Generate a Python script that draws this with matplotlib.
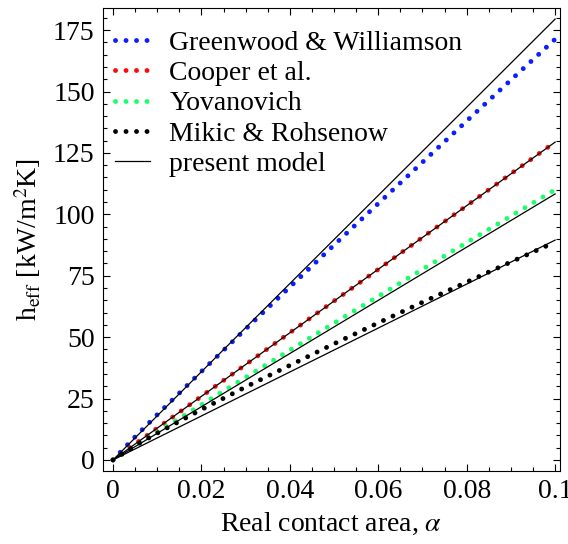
import matplotlib
matplotlib.use("Agg")
import matplotlib.pyplot as plt
from matplotlib.ticker import MultipleLocator, FormatStrFormatter

plt.rcParams['font.family'] = ['Liberation Serif', 'DejaVu Serif']
plt.rcParams['mathtext.fontset'] = 'stix'

# Real contact area grid
alpha = [0.0, 0.005, 0.01, 0.02, 0.03, 0.04, 0.05, 0.06, 0.07, 0.08, 0.09, 0.1]

# h_eff [kW/m^2K]
greenwood = [0.0, 9.4, 18.4, 36.0, 53.3, 70.4, 87.5, 104.4, 121.2, 138.0, 154.7, 171.3]
cooper = [0.0, 6.5, 12.9, 25.9, 38.8, 51.8, 64.7, 77.6, 90.6, 103.5, 116.5, 129.4]
yovanovich = [0.0, 5.7, 11.3, 22.5, 33.6, 44.7, 55.7, 66.6, 77.6, 88.5, 99.3, 110.0]
mikic = [0.0, 5.8, 10.9, 20.5, 29.7, 38.5, 47.3, 55.8, 64.2, 72.4, 80.6, 88.7]

# present model (straight lines)
model_x = [0.0, 0.1]
model_gw = [0.0, 179.5]
model_cooper = [0.0, 129.4]
model_yov = [0.0, 108.3]
model_mikic = [0.0, 89.5]

labels = ["Greenwood & Williamson", "Cooper et al.", "Yovanovich", "Mikic & Rohsenow", "present model"]
colors = ["#0a1eff", "#ff0a0a", "#1aff6a", "#000000"]

fig = plt.figure(figsize=(5.68, 5.44), dpi=100)
ax = fig.add_axes([0.1813, 0.1342, 0.8046, 0.8511])

dot = dict(linestyle=(0, (0.01, 2.15)), dash_capstyle='round', linewidth=3.5)
handles = []
for ys, c, lab in zip([greenwood, cooper, yovanovich, mikic], colors, labels[:4]):
    h, = ax.plot(alpha, ys, color=c, label=lab, **dot)
    handles.append(h)

first = True
for ys in [model_gw, model_cooper, model_yov, model_mikic]:
    h, = ax.plot(model_x, ys, color='black', linewidth=0.9,
                 label=labels[4] if first else None)
    if first:
        handles.append(h)
    first = False

ax.set_xlim(-0.00226, 0.1011)
ax.set_ylim(-4.5, 184)
ax.xaxis.set_major_locator(MultipleLocator(0.02))
ax.xaxis.set_minor_locator(MultipleLocator(0.005))
ax.yaxis.set_major_locator(MultipleLocator(25))
ax.yaxis.set_minor_locator(MultipleLocator(5))
ax.xaxis.set_major_formatter(FormatStrFormatter('%g'))
ax.yaxis.set_major_formatter(FormatStrFormatter('%g'))
ax.tick_params(which='both', direction='in', top=True, right=True, labelsize=20, width=0.8)
ax.tick_params(which='major', length=5, pad=6)
ax.tick_params(which='minor', length=3)
for s in ax.spines.values():
    s.set_linewidth(0.8)

ax.set_xlabel(r'Real contact area, $\alpha$', fontsize=20, labelpad=5)
ax.set_ylabel(r'h$_{\rm eff}$ [kW/m$^2$K]', fontsize=20, labelpad=7)

ax.legend(handles=handles, loc='upper left', frameon=False, fontsize=20,
          handlelength=1.26, handletextpad=0.7, labelspacing=0.17,
          borderpad=0.2, borderaxespad=0.23, bbox_to_anchor=(0.0, 0.977))

fig.savefig('out.png', dpi=100)
